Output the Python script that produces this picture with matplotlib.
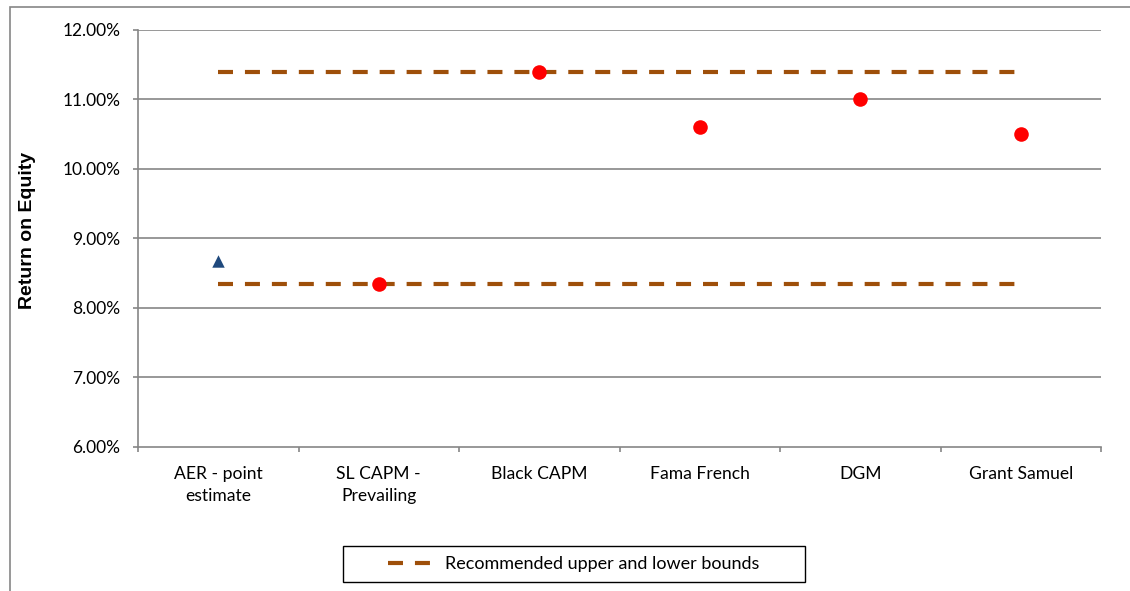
import matplotlib
matplotlib.use("Agg")
import matplotlib.pyplot as plt
from matplotlib.ticker import PercentFormatter, FixedLocator
from matplotlib.patches import Rectangle
from matplotlib.lines import Line2D

# ---- data -------------------------------------------------------------
categories = ["AER - point\nestimate", "SL CAPM -\nPrevailing", "Black CAPM",
              "Fama French", "DGM", "Grant Samuel"]
aer_index = [0]
aer_estimate = [0.0868]
model_index = [1, 2, 3, 4, 5]
model_estimates = [0.0835, 0.1140, 0.1060, 0.1100, 0.1050]
upper_bound = 0.1140
lower_bound = 0.0835
bound_label = "Recommended upper and lower bounds"
y_ticks = [0.06, 0.07, 0.08, 0.09, 0.10, 0.11, 0.12]

# ---- styling ----------------------------------------------------------
W, H = 1130, 591
DPI = 100
grey = "#868686"
brown = "#9E4F0A"
tick_font = "Lato"
plt.rcParams["lines.scale_dashes"] = False

fig = plt.figure(figsize=(W / DPI, H / DPI), dpi=DPI)

def fx(px):
    return px / W

def fy(py):
    return 1 - py / H

# chart-area border (open at right and bottom)
fig.patches.append(Rectangle((fx(9.5), -0.2), 1.5, fy(6.5) + 0.2,
                             transform=fig.transFigure, fill=False,
                             edgecolor=grey, linewidth=1.2))

ax = fig.add_axes([fx(138), fy(447), fx(1101) - fx(138), fy(30) - fy(447)])

n = len(categories)
ax.set_xlim(-0.5, n - 0.5)
ax.set_ylim(y_ticks[0], y_ticks[-1])

for y in y_ticks[1:]:
    ax.axhline(y, color=grey, linewidth=1.2, zorder=1)

dash = dict(color=brown, linewidth=3.0, dashes=(10.8, 8.6), zorder=2)
first, last = 0, n - 1
ax.plot([first, last], [upper_bound, upper_bound], label=bound_label, **dash)
ax.plot([first, last], [lower_bound, lower_bound], **dash)

ax.scatter(aer_index, aer_estimate, marker="^", s=80, color="#1F497D",
           zorder=3, linewidths=0)
ax.scatter(model_index, model_estimates, marker="o", s=110, color="#FF0000",
           zorder=3, linewidths=0)

# axes
for side in ("top", "right"):
    ax.spines[side].set_visible(False)
for side in ("left", "bottom"):
    ax.spines[side].set_color(grey)
    ax.spines[side].set_linewidth(1.2)

ax.yaxis.set_major_locator(FixedLocator(y_ticks))
ax.yaxis.set_major_formatter(PercentFormatter(xmax=1, decimals=2))
ax.tick_params(axis="y", direction="out", length=3.6, width=1.2, color=grey,
               pad=9, labelsize=12.5)

ax.set_xticks(range(n))
ax.set_xticklabels(categories, linespacing=1.4)
ax.set_xticks([i - 0.5 for i in range(n + 1)], minor=True)
ax.tick_params(axis="x", which="major", length=0, pad=14, labelsize=12.6)
ax.tick_params(axis="x", which="minor", direction="out", length=3.6, width=1.2,
               color=grey)
for lab in ax.get_xticklabels() + ax.get_yticklabels():
    lab.set_family(tick_font)
    lab.set_color("#000000")
for lab in ax.get_xticklabels():
    lab.set_verticalalignment("top")

ax.set_ylabel("Return on Equity", fontsize=14, fontweight="bold",
              family="Liberation Sans")
ax.yaxis.set_label_coords(fx(36 - 138) / (fx(1101) - fx(138)), 0.52)

# legend box
fig.patches.append(Rectangle((fx(343), fy(582)), fx(805) - fx(343),
                             fy(546) - fy(582), transform=fig.transFigure,
                             fill=False, edgecolor="#000000", linewidth=1.0))
handle = Line2D([], [], **dash)
fig.legend([handle], [bound_label], loc="center left",
           bbox_to_anchor=(fx(388), fy(564)), frameon=False,
           handlelength=2.3, handletextpad=0.85, borderpad=0, borderaxespad=0,
           prop={"family": tick_font, "size": 13})

fig.savefig("out.png", dpi=DPI)
